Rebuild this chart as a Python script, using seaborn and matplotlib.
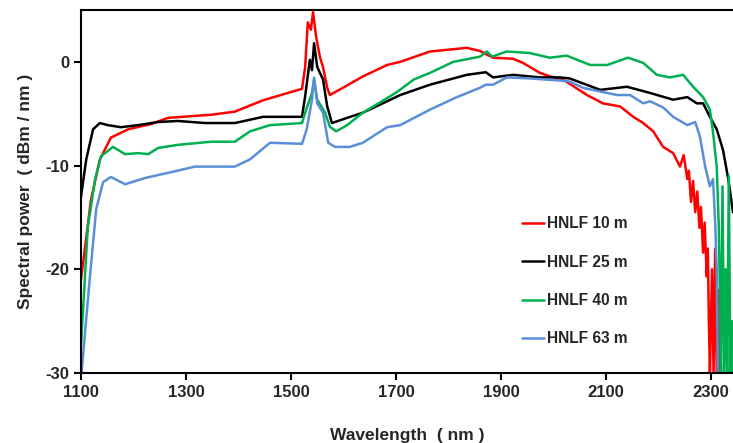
import pandas as pd
import seaborn as sns
import matplotlib.pyplot as plt

# wavelength (nm) / spectral power (dBm/nm)
wl_10 = [1100, 1119, 1136, 1157, 1190, 1233, 1266, 1348, 1393, 1447, 1521, 1527, 1532, 1538,
         1542, 1548, 1555, 1561, 1569, 1574, 1599, 1637, 1683, 1708, 1765, 1835, 1860, 1873,
         1885, 1923, 1942, 1974, 1993, 2018, 2064, 2094, 2127, 2152, 2171, 2190, 2209, 2228,
         2241, 2248, 2255, 2258, 2262, 2266, 2270, 2274, 2278, 2281, 2285, 2288, 2292, 2294,
         2296, 2298, 2302, 2305, 2308, 2311, 2314, 2316]
pw_10 = [-21.0, -13.3, -9.4, -7.3, -6.5, -6.0, -5.4, -5.1, -4.8, -3.7, -2.6, -0.5, 3.8, 3.1,
         4.8, 2.4, 0.5, -0.5, -2.5, -3.2, -2.5, -1.4, -0.3, 0.0, 1.0, 1.35, 1.05, 0.7,
         0.4, 0.3, -0.1, -1.06, -1.4, -1.7, -3.2, -4.0, -4.3, -5.3, -5.9, -6.7, -8.2, -8.8,
         -10.1, -9.0, -11.3, -10.5, -13.5, -11.5, -14.5, -12.5, -16.0, -14.0, -18.4, -15.5, -20.7, -18.0,
         -25.0, -30.0, -20.0, -30.0, -18.0, -30.0, -22.0, -30.0]

wl_25 = [1100, 1110, 1123, 1136, 1151, 1176, 1209, 1247, 1285, 1336, 1393, 1447, 1521, 1527,
         1536, 1540, 1544, 1550, 1561, 1569, 1578, 1607, 1637, 1683, 1708, 1765, 1835, 1871,
         1885, 1923, 1974, 2012, 2031, 2089, 2140, 2184, 2228, 2255, 2273, 2285, 2298, 2311,
         2323, 2333, 2342]
pw_25 = [-13.0, -9.4, -6.5, -5.9, -6.1, -6.3, -6.1, -5.8, -5.7, -5.9, -5.9, -5.3, -5.3, -3.3,
         0.2, -0.8, 1.8, -0.5, -1.7, -4.3, -5.9, -5.4, -4.9, -3.8, -3.2, -2.2, -1.25, -1.0,
         -1.5, -1.25, -1.5, -1.5, -1.6, -2.7, -2.4, -3.0, -3.65, -3.4, -4.0, -4.0, -5.3, -6.5,
         -8.5, -11.3, -14.5]

wl_40 = [1100, 1113, 1127, 1138, 1161, 1184, 1209, 1228, 1247, 1285, 1348, 1393, 1422, 1460,
         1521, 1529, 1540, 1544, 1550, 1565, 1574, 1586, 1607, 1637, 1683, 1702, 1734, 1765,
         1809, 1860, 1873, 1883, 1911, 1955, 1993, 2025, 2070, 2102, 2142, 2171, 2197, 2222,
         2247, 2266, 2285, 2298, 2304, 2311, 2315, 2317, 2319, 2322, 2325, 2328, 2331, 2334,
         2337, 2340, 2342]
pw_40 = [-27.4, -15.9, -11.3, -9.1, -8.2, -8.9, -8.8, -8.9, -8.3, -8.0, -7.7, -7.7, -6.7, -6.1,
         -5.9, -4.6, -3.0, -1.7, -3.65, -4.9, -6.25, -6.7, -6.1, -4.9, -3.5, -2.9, -1.7, -1.06,
         0.0, 0.5, 1.0, 0.5, 1.0, 0.85, 0.4, 0.6, -0.3, -0.3, 0.4, -0.1, -1.25, -1.5,
         -1.25, -2.4, -3.4, -4.6, -6.8, -10.1, -16.0, -22.0, -30.0, -12.0, -30.0, -20.0, -30.0, -11.0,
         -30.0, -25.0, -30.0]

wl_63 = [1101, 1117, 1129, 1142, 1157, 1184, 1222, 1266, 1317, 1361, 1393, 1422, 1460, 1521,
         1530, 1540, 1544, 1550, 1561, 1571, 1584, 1612, 1637, 1683, 1708, 1765, 1816, 1860,
         1871, 1885, 1911, 1955, 2012, 2031, 2056, 2121, 2146, 2171, 2184, 2209, 2228, 2255,
         2270, 2279, 2289, 2298, 2304, 2308, 2311, 2313]
pw_63 = [-30.0, -20.7, -14.2, -11.6, -11.1, -11.8, -11.2, -10.7, -10.1, -10.1, -10.1, -9.4, -7.8, -7.9,
         -6.5, -3.65, -1.5, -4.0, -4.9, -7.8, -8.2, -8.2, -7.8, -6.3, -6.1, -4.6, -3.4, -2.5,
         -2.2, -2.2, -1.5, -1.6, -1.8, -1.9, -2.5, -3.2, -3.2, -4.0, -3.8, -4.4, -5.3, -6.1,
         -5.8, -7.2, -10.1, -12.0, -11.3, -15.5, -20.0, -30.0]

labels = ['HNLF 10 m', 'HNLF 25 m', 'HNLF 40 m', 'HNLF 63 m']
colors = ['#FF0000', '#000000', '#00B050', '#5A8FD8']
series = [(wl_10, pw_10), (wl_25, pw_25), (wl_40, pw_40), (wl_63, pw_63)]

sns.set_theme(style='ticks')
plt.rcParams['font.family'] = ['Liberation Sans', 'DejaVu Sans']
plt.rcParams['font.weight'] = 'bold'
plt.rcParams['axes.unicode_minus'] = False

fig = plt.figure(figsize=(7.33, 4.43), dpi=100)
ax = fig.add_axes([81 / 733, 70 / 443, 652 / 733, 363 / 443])

for (wl, pw), label, color in zip(series, labels, colors):
    df = pd.DataFrame({'Wavelength': wl, 'Power': pw})
    sns.lineplot(data=df, x='Wavelength', y='Power', color=color, label=label,
                 linewidth=1.8, sort=False, estimator=None, ax=ax)

ax.set_xlim(1100, 2342)
ax.set_ylim(-30, 5)
ax.set_xticks(range(1100, 2301, 200))
ax.set_yticks([-30, -20, -10, 0])
ax.tick_params(axis='both', direction='out', length=5, width=1.5, labelsize=12, color='black')
for lab in ax.get_xticklabels() + ax.get_yticklabels():
    lab.set_fontweight('bold')

ax.spines['right'].set_visible(False)
for side in ['left', 'bottom', 'top']:
    ax.spines[side].set_linewidth(1.5)
    ax.spines[side].set_color('black')

ax.set_xlabel('Wavelength  ( nm )', fontsize=12.5, fontweight='bold', labelpad=20)
ax.set_ylabel('Spectral power  ( dBm / nm )', fontsize=12.5, fontweight='bold', labelpad=9)

ax.legend(loc='upper left', bbox_to_anchor=(0.655, 0.47), frameon=False, handlelength=1.4,
          handletextpad=0.2, labelspacing=1.5, prop={'weight': 'bold', 'size': 11.2})

fig.savefig('out.png', dpi=100)
plt.close(fig)
